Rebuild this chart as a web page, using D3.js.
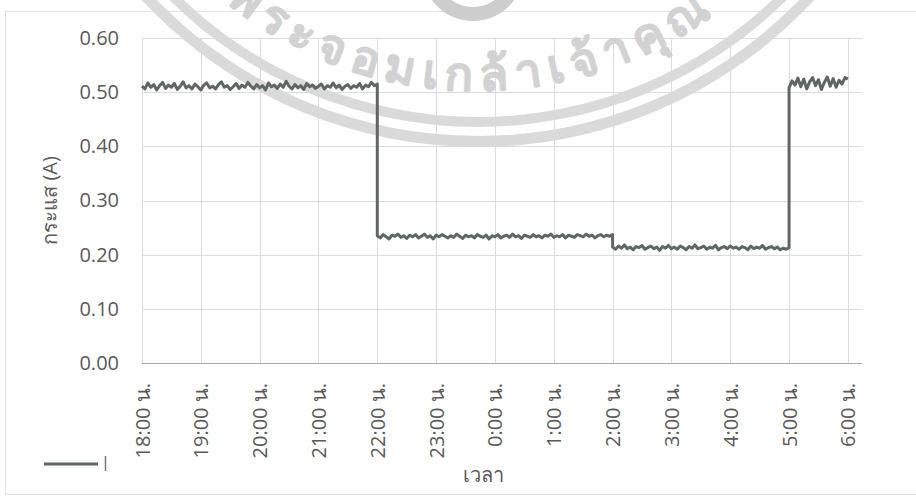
<!DOCTYPE html>
<html>
<head>
<meta charset="utf-8">
<script src="https://cdn.jsdelivr.net/npm/d3@7"></script>
<style>
	body { margin: 0; background: #fff; }
	text { font-family: "Open Sans", "Noto Sans", sans-serif; fill: #5a5a5a; }
	.grid line { stroke: #dcdcdc; stroke-width: 1; }
</style>
</head>
<body>
<svg width="916" height="496"></svg>
<script>
// hours after 18:00, labels under each tick
var timeLabels = ["18:00 น.", "19:00 น.", "20:00 น.", "21:00 น.", "22:00 น.", "23:00 น.", "0:00 น.",
	"1:00 น.", "2:00 น.", "3:00 น.", "4:00 น.", "5:00 น.", "6:00 น."];
var yTicks = [0, 0.1, 0.2, 0.3, 0.4, 0.5, 0.6];

// current readings every 3 min, one array per load period
var evening = [0.511,0.506,0.517,0.509,0.514,0.504,0.512,0.518,0.507,0.513,
	0.509,0.516,0.505,0.511,0.519,0.508,0.512,0.506,0.515,0.510,
	0.504,0.513,0.517,0.508,0.511,0.506,0.514,0.519,0.509,0.512,
	0.505,0.510,0.516,0.507,0.513,0.509,0.518,0.511,0.506,0.514,
	0.508,0.512,0.504,0.517,0.510,0.513,0.507,0.515,0.509,0.520,
	0.511,0.506,0.514,0.508,0.512,0.505,0.516,0.510,0.513,0.507,
	0.511,0.515,0.506,0.512,0.509,0.517,0.508,0.513,0.505,0.511,
	0.514,0.507,0.512,0.509,0.516,0.506,0.513,0.510,0.518,0.512,0.515];   // 18:00 - 22:00
var night = [0.235,0.231,0.237,0.233,0.229,0.236,0.234,0.238,0.232,0.235,
	0.230,0.236,0.233,0.237,0.231,0.234,0.238,0.232,0.235,0.229,
	0.236,0.233,0.237,0.234,0.231,0.235,0.232,0.238,0.234,0.230,
	0.236,0.233,0.235,0.231,0.237,0.234,0.232,0.236,0.229,0.235,
	0.233,0.237,0.231,0.234,0.236,0.232,0.238,0.233,0.235,0.230,
	0.236,0.234,0.232,0.237,0.233,0.235,0.231,0.236,0.234,0.238,
	0.232,0.235,0.233,0.237,0.231,0.236,0.234,0.232,0.237,0.235,
	0.233,0.238,0.234,0.236,0.231,0.235,0.237,0.233,0.236,0.234,0.237];   // 22:00 - 2:00
var lateNight = [0.214,0.210,0.216,0.212,0.218,0.211,0.214,0.209,0.215,0.213,
	0.217,0.210,0.213,0.216,0.211,0.214,0.208,0.215,0.212,0.217,
	0.211,0.214,0.210,0.216,0.213,0.209,0.215,0.212,0.218,0.211,
	0.213,0.216,0.210,0.214,0.212,0.217,0.209,0.213,0.215,0.211,
	0.216,0.212,0.214,0.210,0.215,0.213,0.209,0.216,0.211,0.214,
	0.212,0.217,0.210,0.213,0.215,0.211,0.214,0.209,0.212,0.210,0.213];   // 2:00 - 5:00
var morning = [0.508,0.521,0.513,0.526,0.510,0.524,0.506,0.519,0.527,0.512,
	0.523,0.505,0.518,0.528,0.511,0.525,0.509,0.522,0.515,0.527,0.524];   // 5:00 - 6:00
var segStart = [0, 4, 8, 11];

var svg = d3.select("svg");

var x = d3.scaleLinear().domain([0, 12.24]).range([142, 862]);
var y = d3.scaleLinear().domain([0, 0.6]).range([363, 38]);

// chart border
svg.append("rect")
	.attr("x", 5.5).attr("y", 11.5).attr("width", 940).attr("height", 483)
	.attr("fill", "none").attr("stroke", "#e2e2e2");

// gridlines
var grid = svg.append("g").attr("class", "grid");
grid.selectAll(".h").data(yTicks.slice(1)).enter().append("line")
	.attr("x1", x(0)).attr("x2", x.range()[1])
	.attr("y1", function(d) { return Math.round(y(d)) + 0.5; })
	.attr("y2", function(d) { return Math.round(y(d)) + 0.5; });
grid.selectAll(".v").data(d3.range(timeLabels.length)).enter().append("line")
	.attr("y1", y(0.6)).attr("y2", y(0))
	.attr("x1", function(d) { return Math.round(x(d)) + 0.5; })
	.attr("x2", function(d) { return Math.round(x(d)) + 0.5; });

// watermark (scanned seal behind the chart)
var wm = svg.append("g");
var cx = 478, cy = -311;
var ring = d3.arc().startAngle(-Math.PI).endAngle(Math.PI);
wm.append("path").attr("transform", "translate(" + cx + "," + cy + ")")
	.attr("d", ring.innerRadius(447)({ outerRadius: 458 })).attr("fill", "#dadada");
wm.append("path").attr("transform", "translate(" + cx + "," + cy + ")")
	.attr("d", ring.innerRadius(428)({ outerRadius: 438 })).attr("fill", "#dadada");
wm.append("circle").attr("cx", 473).attr("cy", -30).attr("r", 44)
	.attr("fill", "none").attr("stroke", "#cdcdcd").attr("stroke-width", 14);
var r = 402, a0 = 129 * Math.PI / 180, a1 = 30 * Math.PI / 180;
svg.append("defs").append("path").attr("id", "wmPath")
	.attr("d", "M" + (cx + r * Math.cos(a0)) + "," + (cy + r * Math.sin(a0)) +
		" A" + r + "," + r + " 0 0,0 " + (cx + r * Math.cos(a1)) + "," + (cy + r * Math.sin(a1)));
wm.append("text")
	.style("font-size", "47px").style("fill", "#d2d2d2")
	.style("stroke", "#d2d2d2").style("stroke-width", 2.5).style("stroke-linejoin", "round")
	.style("letter-spacing", "8px")
	.append("textPath").attr("href", "#wmPath")
	.text("พระจอมเกล้าเจ้าคุณ");

// axes
var yAxis = svg.append("g")
	.attr("transform", "translate(" + x(0) + ",0)")
	.call(d3.axisLeft(y).tickValues(yTicks).tickFormat(d3.format(".2f")).tickSize(0).tickPadding(23));
yAxis.select(".domain").remove();
yAxis.selectAll("text").style("font-size", "20px");

var xAxis = svg.append("g")
	.attr("transform", "translate(0," + y(0) + ")")
	.call(d3.axisBottom(x).tickValues(d3.range(timeLabels.length))
		.tickFormat(function(d) { return timeLabels[d]; }).tickSize(0));
xAxis.select(".domain").attr("stroke", "#a8a8a8").attr("d", "M" + x(0) + ",0.5H" + x.range()[1]);
xAxis.selectAll("text")
	.style("font-size", "20px")
	.attr("text-anchor", "end")
	.attr("transform", "rotate(-90)")
	.attr("x", -20).attr("y", 0).attr("dy", "0.35em");

// data line
var points = [];
[evening, night, lateNight, morning].forEach(function(seg, i) {
	seg.forEach(function(v, j) { points.push([segStart[i] + j / 20, v]); });
});
var line = d3.line().x(function(d) { return x(d[0]); }).y(function(d) { return y(d[1]); });
svg.append("path").datum(points)
	.attr("d", line).attr("fill", "none")
	.attr("stroke", "#5f6663").attr("stroke-width", 3).attr("stroke-linejoin", "round");

// axis titles
svg.append("text")
	.attr("transform", "translate(50," + (y(0.3)) + ") rotate(-90)")
	.attr("text-anchor", "middle").attr("dy", "0.35em")
	.style("font-size", "20px").text("กระแส (A)");
svg.append("text")
	.attr("x", 483).attr("y", 475).attr("text-anchor", "middle").attr("dy", "0.35em")
	.style("font-size", "20px").text("เวลา");

// legend
svg.append("line").attr("x1", 44).attr("x2", 98).attr("y1", 464).attr("y2", 464)
	.attr("stroke", "#5f6663").attr("stroke-width", 3);
svg.append("line").attr("x1", 105.5).attr("x2", 105.5).attr("y1", 456).attr("y2", 471)
	.attr("stroke", "#777").attr("stroke-width", 1.5);
</script>
</body>
</html>
